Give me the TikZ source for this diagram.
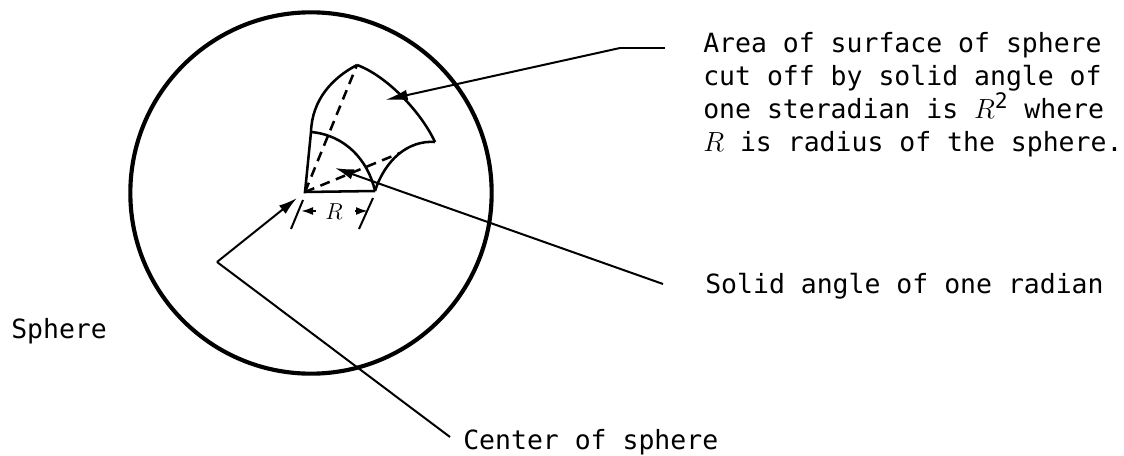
\documentclass[tikz,border=0pt]{standalone}
\usepackage{fontspec}
\setmonofont{DejaVu Sans Mono}
\usetikzlibrary{arrows.meta,positioning,calc}
\tikzset{
  label/.style={font=\fontsize{19.85}{24.7}\selectfont\ttfamily, align=left, inner sep=0pt, anchor=north west},
  rim/.style={draw=black, line width=3.1pt},
  wedge/.style={draw=black, line width=1.9pt},
  hidden/.style={draw=black, line width=1.9pt, dash pattern=on 7.5pt off 5pt},
  leader/.style={draw=black, line width=1.5pt},
  flow/.style={-{Latex[length=14pt,width=8pt]}, line width=1.5pt, draw=black},
  dimflow/.style={-{Latex[length=9pt,width=6pt]}, line width=1.5pt, draw=black},
}
\begin{document}
\begin{tikzpicture}[x=0.75pt,y=-0.75pt]
    \useasboundingbox (0,0) rectangle (1124,456);
    % sphere and the cut-off patch
    \node[rim, circle, inner sep=0pt, minimum size=271pt] (sphere) at (311,193) {};
    \coordinate (origin) at (305,192);
    \coordinate (inleft) at (311,132);
    \coordinate (inright) at (375,191);
    \coordinate (outtop) at (357,65);
    \coordinate (outright) at (435,142);
    \coordinate (dashend) at (400,153);
    \draw[wedge] (inright) -- (origin) -- (inleft);
    \draw[wedge] (inleft) .. controls (345,135) and (368,160) .. (inright);
    \draw[wedge] (inleft) .. controls (312,100) and (332,78) .. (outtop);
    \draw[wedge] (outtop) .. controls (385,75) and (420,110) .. (outright);
    \draw[wedge] (outright) .. controls (408,140) and (385,160) .. (inright);
    \draw[hidden] (origin) -- (outtop);
    \draw[hidden] (origin) -- (dashend);
    % labels
    \node[label] (arealabel) at (703,32) {Area of surface of sphere\\cut off by solid angle of\\one steradian is $R^{\mbox{\fontsize{16}{16}\selectfont 2}}$ where\\$R$ is radius of the sphere.};
    \node[label] (solidlabel) at (705,273) {Solid angle of one radian};
    \node[label] (spherelabel) at (11,318) {Sphere};
    \node[label] (centerlabel) at (463,429) {Center of sphere};
    \node[font=\fontsize{18.5}{20}\selectfont, inner sep=0pt] (rlabel) at (334,212) {$R$};
    % leaders
    \coordinate (areabend) at (620,48);
    \coordinate (areaend) at (665,48);
    \coordinate (areatip) at (385,100);
    \coordinate (solidend) at (663,284);
    \coordinate (solidtip) at (335,168);
    \coordinate (centerbend) at (217,262);
    \coordinate (centerend) at (450,437);
    \coordinate (centertip) at (297,198);
    \draw[leader] (areaend) -- (areabend);
    \draw[flow, -{Latex[length=17pt,width=8pt]}] (areabend) -- (areatip);
    \draw[flow] (solidend) -- (solidtip);
    \draw[leader] (centerend) -- (centerbend);
    \draw[flow] (centerbend) -- (centertip);
    % R dimension
    \coordinate (extleft) at (303,200);
    \coordinate (extleftb) at (291,229);
    \coordinate (extright) at (373,198);
    \coordinate (extrightb) at (359,229);
    \coordinate (dimleft) at (301,211);
    \coordinate (dimright) at (368,211);
    \draw[leader] (extleft) -- (extleftb);
    \draw[leader] (extright) -- (extrightb);
    \draw[dimflow] ($(rlabel.west)+(-9,-1)$) -- (dimleft);
    \draw[dimflow] ($(rlabel.east)+(12,-1)$) -- (dimright);
  \end{tikzpicture}
\end{document}
